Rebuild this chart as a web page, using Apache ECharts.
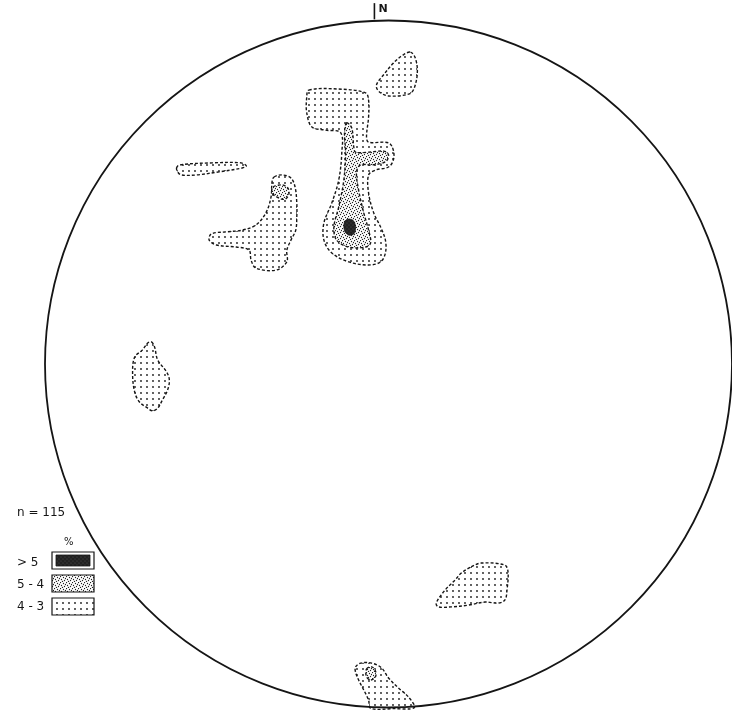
<!DOCTYPE html>
<html><head><meta charset="utf-8">
<script src="https://cdn.jsdelivr.net/npm/echarts@6/dist/echarts.min.js"></script>
<style>html,body{margin:0;padding:0;background:#fff}#c{width:732px;height:716px}</style>
</head><body><div id="c"></div>
<script>
// Stereonet contour diagram, coordinates in percent of net radius (x = east, y = north)
const sampleSize = 115;
const levelLabels = ['> 5', '5 - 4', '4 - 3'];
const northMark = { x: -4.1, y0: 99.9, y1: 104.6, label: 'N' };

// 4-3 % contours
const shapeNNE = [[6.4,90.4],[7.8,88.7],[8.4,84.6],[7.5,80.0],[6.1,78.3],[0,77.7],[-2.9,79.1],[-3.5,80.9],[-1.2,84.1],[1.7,87.5],[4.3,89.6]];
const shapeCentral = [[-23.2,79.4],[-14.5,79.7],[-6.7,78.6],[-5.8,76.5],[-5.8,71.6],[-6.4,65.8],[-5.8,64.3],[0,64.1],[1.4,62.0],[1.4,59.1],[0,57.1],[-3.8,56.2],[-5.8,54.8],[-5.8,49.6],[-4.3,43.8],[-2.3,39.7],[-0.9,35.9],[-0.9,32.2],[-2.3,29.6],[-5.8,28.7],[-11.6,29.6],[-16.5,32.2],[-18.8,35.9],[-18.8,40.9],[-16.5,46.7],[-14.5,53.3],[-13.6,61.2],[-13.9,67.0],[-18.3,67.8],[-22.3,68.7],[-23.8,72.8],[-23.8,77.4]];
const shapeThin = [[-61.7,56.8],[-60.9,57.7],[-51.3,58.3],[-42.9,58.3],[-41.4,57.4],[-42.6,56.8],[-49.3,55.7],[-55.9,54.8],[-60.3,54.8],[-61.4,55.7]];
const shapeNW = [[-33.3,54.2],[-31.0,54.8],[-28.4,53.9],[-27.2,51.3],[-26.7,46.7],[-26.7,42.6],[-27.0,38.8],[-28.4,35.9],[-29.6,33.0],[-29.6,29.6],[-32.8,27.2],[-38.6,27.8],[-40.0,30.1],[-40.6,33.0],[-44.3,33.9],[-50.1,34.5],[-52.2,35.9],[-51.6,37.7],[-47.2,38.3],[-42.6,38.8],[-38.6,40.3],[-35.7,43.8],[-34.2,48.4],[-33.9,52.8]];
const shapeW = [[-69.0,6.4],[-68.1,4.9],[-67.2,1.2],[-64.6,-2.3],[-63.8,-4.6],[-64.3,-7.5],[-65.8,-10.4],[-67.2,-12.8],[-68.7,-13.6],[-70.1,-12.8],[-72.5,-11.0],[-73.9,-8.1],[-74.5,-2.6],[-73.9,2.0],[-71.6,4.1],[-70.1,6.1]];
const shapeSE = [[24.1,-58.8],[27.0,-57.7],[33.9,-58.3],[34.8,-60.3],[34.5,-65.5],[33.9,-68.4],[31.9,-69.3],[28.1,-69.0],[23.2,-69.9],[18.3,-70.4],[14.5,-70.4],[13.9,-69.3],[16.5,-65.5],[19.4,-62.6],[21.2,-60.6]];
const shapeS = [[-9.6,-87.8],[-8.1,-86.7],[-4.9,-86.7],[-2.0,-88.1],[0,-91.0],[2.9,-93.9],[5.8,-96.5],[7.5,-99.6],[1.4,-99.9],[-5.2,-99.8],[-5.8,-97.4],[-7.2,-94.5],[-8.7,-91.6],[-9.6,-89.3]];
// 5-4 % contours
const coreCentral = [[-12.2,69.9],[-10.7,68.4],[-10.1,62.9],[-9.6,61.4],[-5.8,61.4],[-1.4,61.7],[0,60.6],[-0.9,58.6],[-4.9,57.7],[-8.1,57.7],[-9.3,55.7],[-8.7,50.4],[-7.2,43.8],[-5.8,38.8],[-5.2,35.1],[-6.7,33.9],[-11.6,33.9],[-15.1,35.9],[-15.9,39.7],[-14.5,45.5],[-13.0,53.3],[-12.5,61.2],[-12.8,67.0]];
const coreNW = [[-33.6,51.3],[-31.0,51.9],[-29.3,51.0],[-29.0,49.3],[-30.1,47.8],[-31.9,48.1],[-33.9,49.6]];
const coreS = [[-6.4,-88.4],[-4.9,-87.8],[-3.8,-89.0],[-3.8,-90.7],[-5.2,-91.6],[-6.4,-90.7]];
// > 5 % contour
const peakCentral = [[-12.8,41.2],[-11.6,42.0],[-10.1,41.4],[-9.6,39.4],[-10.1,37.7],[-11.6,37.4],[-12.8,38.6]];

const contours = [
  {level: 2, pts: shapeNNE}, {level: 2, pts: shapeCentral}, {level: 2, pts: shapeThin},
  {level: 2, pts: shapeNW}, {level: 2, pts: shapeW}, {level: 2, pts: shapeSE}, {level: 2, pts: shapeS},
  {level: 1, pts: coreCentral}, {level: 1, pts: coreNW}, {level: 1, pts: coreS},
  {level: 0, pts: peakCentral}
];

function makePattern(size, dots, r, bg, color) {
  const cv = document.createElement('canvas');
  cv.width = size; cv.height = size;
  const ctx = cv.getContext('2d');
  if (bg) { ctx.fillStyle = bg; ctx.fillRect(0, 0, size, size); }
  ctx.fillStyle = color;
  dots.forEach(d => { ctx.beginPath(); ctx.arc(d[0], d[1], r, 0, Math.PI * 2); ctx.fill(); });
  return { image: cv, repeat: 'repeat' };
}
const sparse = makePattern(6, [[3, 3]], 0.9, '#ffffff', '#1a1a1a');
const dense = makePattern(6, [[0.5,0.5],[3.5,1.5],[1.5,3.5],[4.5,4.5],[2.5,5.5],[5.5,2.5]], 0.65, '#ffffff', '#222');
const dark = makePattern(4, [[1,1],[3,3]], 0.6, '#222', '#555');
const fills = [dark, dense, sparse];

const chart = echarts.init(document.getElementById('c'), null, { renderer: 'canvas' });
const ink = '#151515';
const font = 'DejaVu Sans, sans-serif';

const option = {
  backgroundColor: '#fff',
  animation: false,
  grid: { left: 45, top: 19, width: 690, height: 690 },
  xAxis: { type: 'value', min: -100, max: 100, show: false },
  yAxis: { type: 'value', min: -100, max: 100, show: false },
  series: [
    {
      type: 'custom', clip: false, silent: true,
      data: contours.map((c, i) => [0, 0, i]),
      renderItem: function (params, api) {
        const c = contours[params.dataIndex];
        const pts = c.pts.map(p => api.coord(p));
        return {
          type: 'polygon',
          shape: { points: pts, smooth: 0.35 },
          style: {
            fill: fills[c.level],
            stroke: ink,
            lineWidth: c.level === 0 ? 0.8 : 1.4,
            lineDash: c.level === 0 ? null : [3, 2]
          }
        };
      }
    },
    {
      type: 'custom', clip: false, silent: true,
      data: [[0, 0]],
      renderItem: function (params, api) {
        const c = api.coord([0, 0]);
        const r = api.size([100, 0])[0];
        const t0 = api.coord([northMark.x, northMark.y0]);
        const t1 = api.coord([northMark.x, northMark.y1]);
        return {
          type: 'group',
          children: [
            { type: 'circle', shape: { cx: c[0], cy: c[1], r: r }, style: { fill: null, stroke: ink, lineWidth: 1.8 } },
            { type: 'line', shape: { x1: t0[0], y1: t0[1], x2: t1[0], y2: t1[1] }, style: { stroke: ink, lineWidth: 1.6 } },
            { type: 'text', x: t1[0] + 4, y: (t0[1] + t1[1]) / 2 - 2,
              style: { text: northMark.label, fill: ink, font: 'bold 11px ' + font, verticalAlign: 'middle', align: 'left' } }
          ]
        };
      }
    }
  ],
  graphic: [
    { type: 'text', x: 17, y: 513, style: { text: 'n = ' + sampleSize, fill: ink, font: '12px ' + font, verticalAlign: 'middle' } },
    { type: 'text', x: 64, y: 542, style: { text: '%', fill: ink, font: '10px ' + font, verticalAlign: 'middle' } },
    { type: 'text', x: 17, y: 563, style: { text: levelLabels[0], fill: ink, font: '12px ' + font, verticalAlign: 'middle' } },
    { type: 'text', x: 17, y: 585, style: { text: levelLabels[1], fill: ink, font: '12px ' + font, verticalAlign: 'middle' } },
    { type: 'text', x: 17, y: 607, style: { text: levelLabels[2], fill: ink, font: '12px ' + font, verticalAlign: 'middle' } },
    { type: 'rect', shape: { x: 52, y: 552, width: 42, height: 17 }, style: { fill: '#fff', stroke: ink, lineWidth: 1.2 } },
    { type: 'rect', shape: { x: 56, y: 555, width: 34, height: 11 }, style: { fill: dark, stroke: ink, lineWidth: 0.8 } },
    { type: 'rect', shape: { x: 52, y: 575, width: 42, height: 17 }, style: { fill: dense, stroke: ink, lineWidth: 1.2 } },
    { type: 'rect', shape: { x: 52, y: 598, width: 42, height: 17 }, style: { fill: sparse, stroke: ink, lineWidth: 1.2 } }
  ]
};
chart.setOption(option);
</script>
</body></html>
